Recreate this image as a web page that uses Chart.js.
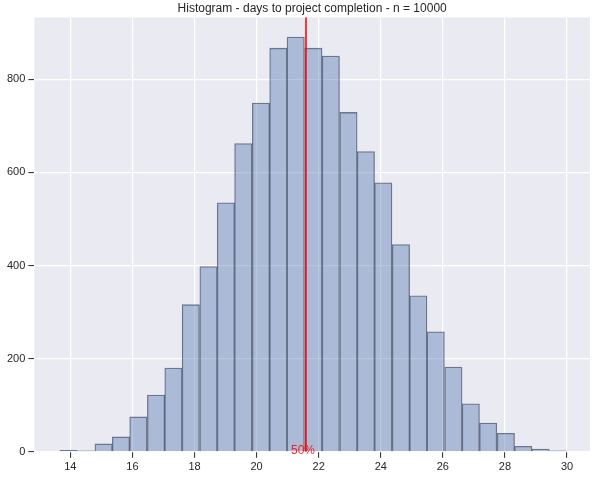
<!DOCTYPE html>
<html>
<head>
<meta charset="utf-8">
<script src="https://cdn.jsdelivr.net/npm/chart.js@4.4.1/dist/chart.umd.min.js"></script>
<style>
  html, body { margin: 0; padding: 0; background: #fff; }
  #wrap { width: 593px; height: 478px; }
</style>
</head>
<body>
<div id="wrap"><canvas id="hist" width="593" height="478"></canvas></div>
<script>
const binCenters = [13.94, 14.50, 15.07, 15.63, 16.19, 16.76, 17.32, 17.88, 18.45, 19.01,
                    19.57, 20.14, 20.70, 21.26, 21.83, 22.39, 22.96, 23.52, 24.08, 24.65,
                    25.21, 25.77, 26.34, 26.90, 27.46, 28.03, 28.59, 29.15, 29.72];
const counts = [3, 2, 17, 32, 75, 122, 180, 316, 398, 535,
                662, 749, 867, 891, 867, 850, 729, 645, 578, 445,
                335, 258, 182, 103, 62, 40, 12, 6, 2];
const p50 = 21.59;
const p50Label = "50%";
const title = "Histogram - days to project completion - n = 10000";

const font = "'Liberation Sans', Arial, sans-serif";
const ink = "#262626";

// seaborn-ish dark grid background
const bgPlugin = {
  id: "bg",
  beforeDraw(c) {
    const a = c.chartArea, ctx = c.ctx;
    ctx.save();
    ctx.fillStyle = "#eaeaf2";
    ctx.fillRect(a.left, a.top, a.right - a.left, a.bottom - a.top);
    ctx.restore();
  }
};

// percentile marker
const p50Plugin = {
  id: "p50",
  afterDatasetsDraw(c) {
    const a = c.chartArea, ctx = c.ctx;
    const x = c.scales.x.getPixelForValue(p50);
    ctx.save();
    ctx.strokeStyle = "rgba(255,0,0,0.85)";
    ctx.lineWidth = 1.8;
    ctx.beginPath();
    ctx.moveTo(x, a.top);
    ctx.lineTo(x, a.bottom);
    ctx.stroke();
    ctx.fillStyle = "rgba(255,0,0,0.85)";
    ctx.font = "12px " + font;
    ctx.textAlign = "center";
    ctx.textBaseline = "middle";
    ctx.fillText(p50Label, x - 3, c.scales.y.getPixelForValue(0) - 1);
    ctx.restore();
  }
};

new Chart(document.getElementById("hist"), {
  type: "bar",
  data: {
    datasets: [{
      data: binCenters.map((x, i) => ({ x, y: counts[i] })),
      backgroundColor: "rgba(76,114,176,0.4)",
      borderColor: "rgba(20,25,40,0.55)",
      borderWidth: 0.7,
      barPercentage: 1,
      categoryPercentage: 1,
      inflateAmount: 0.3,
    }],
  },
  options: {
    responsive: false,
    animation: false,
    devicePixelRatio: 1,
    layout: { padding: { left: 4, right: 3, top: 0, bottom: 1 } },
    plugins: {
      legend: { display: false },
      tooltip: { enabled: false },
      title: {
        display: true, text: title, color: ink, fullSize: false,
        font: { family: font, size: 12, weight: "normal" },
        padding: { top: 1, bottom: 2 },
      },
    },
    scales: {
      x: {
        type: "linear", offset: false, min: 12.84, max: 30.74,
        grid: { color: "#ffffff", lineWidth: 1.2, offset: false, tickColor: ink, tickLength: 6, tickWidth: 1 },
        border: { display: false },
        ticks: { stepSize: 2, includeBounds: false, color: ink, padding: 3, font: { family: font, size: 11 } },
      },
      y: {
        min: 0, max: 933,
        grid: { color: "#ffffff", lineWidth: 1.2, tickColor: ink, tickLength: 6, tickWidth: 1 },
        border: { display: false },
        ticks: { stepSize: 200, includeBounds: false, color: ink, padding: 3, font: { family: font, size: 11 } },
      },
    },
  },
  plugins: [bgPlugin, p50Plugin],
});
</script>
</body>
</html>
